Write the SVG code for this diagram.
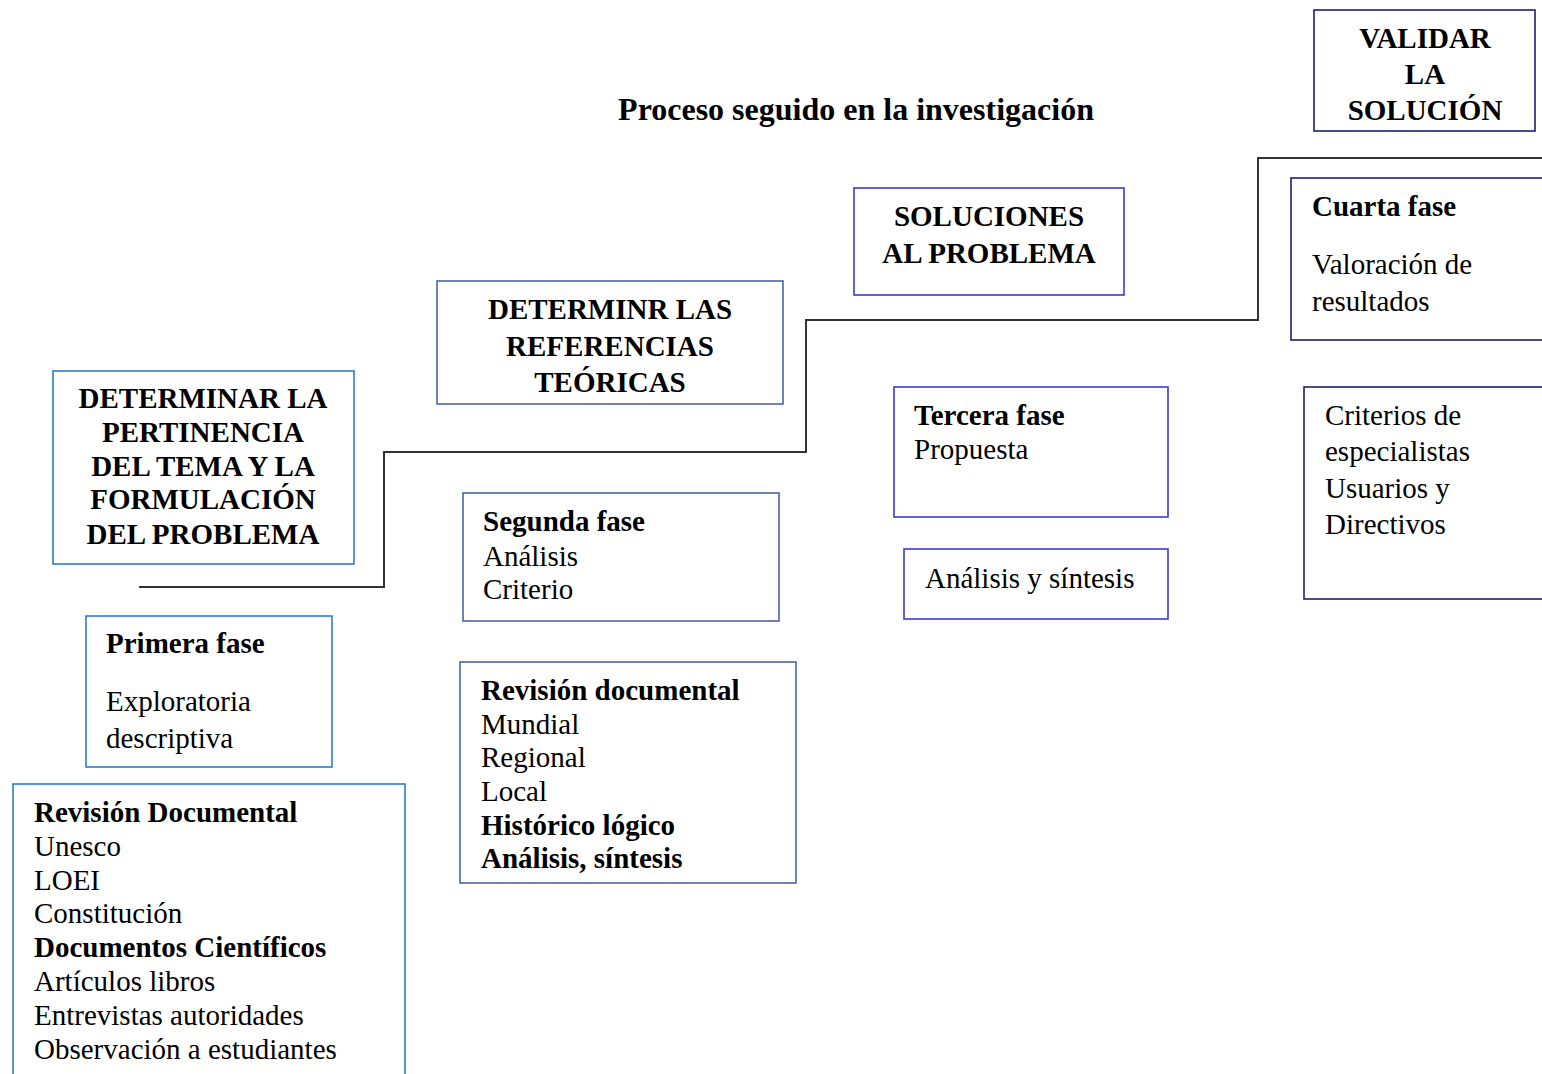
<svg xmlns="http://www.w3.org/2000/svg" width="1542" height="1074" viewBox="0 0 1542 1074">
<style>
text{font-family:"Liberation Serif","Times New Roman",serif;font-size:29px;fill:#000}
.b{font-weight:bold}
.c{text-anchor:middle}
.box{fill:#fff;stroke-width:1.6}
.s1{stroke:#2E7BCF}
.s2{stroke:#4A66A8}
.s3{stroke:#3A3AD4}
.s4{stroke:#1E1E70}
.conn{fill:none;stroke:#333;stroke-width:2}
</style>
<rect width="1542" height="1074" fill="#fff"/>
<text class="b c" x="856" y="120" style="font-size:32px">Proceso seguido en la investigación</text>
<g id="connectors">
<polyline class="conn" points="1542,158 1258,158 1258,320 806,320 806,452 384,452 384,587 139,587"/>
</g>
<g id="validar">
<rect class="box s4" x="1314" y="10" width="221" height="121"/>
<text class="b c" x="1425" y="48">VALIDAR</text>
<text class="b c" x="1425" y="84">LA</text>
<text class="b c" x="1425" y="120">SOLUCIÓN</text>
</g>
<g id="cuarta">
<rect class="box s4" x="1291" y="178" width="260" height="162"/>
<text class="b" x="1312" y="216">Cuarta fase</text>
<text x="1312" y="274">Valoración de</text>
<text x="1312" y="311">resultados</text>
</g>
<g id="criterios">
<rect class="box s4" x="1304" y="387" width="250" height="212"/>
<text x="1325" y="425">Criterios de</text>
<text x="1325" y="461">especialistas</text>
<text x="1325" y="498">Usuarios y</text>
<text x="1325" y="534">Directivos</text>
</g>
<g id="soluciones">
<rect class="box s3" x="854" y="188" width="270" height="107"/>
<text class="b c" x="989" y="226">SOLUCIONES</text>
<text class="b c" x="989" y="263">AL PROBLEMA</text>
</g>
<g id="tercera">
<rect class="box s3" x="894" y="387" width="274" height="130"/>
<text class="b" x="914" y="425">Tercera fase</text>
<text x="914" y="459">Propuesta</text>
</g>
<g id="analisis">
<rect class="box s3" x="904" y="549" width="264" height="70"/>
<text x="925" y="588">Análisis y síntesis</text>
</g>
<g id="referencias">
<rect class="box s2" x="437" y="281" width="346" height="123"/>
<text class="b c" x="610" y="319">DETERMINR LAS</text>
<text class="b c" x="610" y="356">REFERENCIAS</text>
<text class="b c" x="610" y="392">TEÓRICAS</text>
</g>
<g id="segunda">
<rect class="box s2" x="463" y="493" width="316" height="128"/>
<text class="b" x="483" y="531">Segunda fase</text>
<text x="483" y="566">Análisis</text>
<text x="483" y="599">Criterio</text>
</g>
<g id="revision-media">
<rect class="box s2" x="460" y="662" width="336" height="221"/>
<text class="b" x="481" y="700">Revisión documental</text>
<text x="481" y="734">Mundial</text>
<text x="481" y="767">Regional</text>
<text x="481" y="801">Local</text>
<text class="b" x="481" y="835">Histórico lógico</text>
<text class="b" x="481" y="868">Análisis, síntesis</text>
</g>
<g id="pertinencia">
<rect class="box s1" x="53" y="371" width="301" height="193"/>
<text class="b c" x="203" y="408">DETERMINAR LA</text>
<text class="b c" x="203" y="442">PERTINENCIA</text>
<text class="b c" x="203" y="476">DEL TEMA Y LA</text>
<text class="b c" x="203" y="509">FORMULACIÓN</text>
<text class="b c" x="203" y="544">DEL PROBLEMA</text>
</g>
<g id="primera">
<rect class="box s1" x="86" y="616" width="246" height="151"/>
<text class="b" x="106" y="653">Primera fase</text>
<text x="106" y="711">Exploratoria</text>
<text x="106" y="748">descriptiva</text>
</g>
<g id="revision-izq">
<rect class="box s1" x="13" y="784" width="392" height="300"/>
<text class="b" x="34" y="822">Revisión Documental</text>
<text x="34" y="856">Unesco</text>
<text x="34" y="890">LOEI</text>
<text x="34" y="923">Constitución</text>
<text class="b" x="34" y="957">Documentos Científicos</text>
<text x="34" y="991">Artículos libros</text>
<text x="34" y="1025">Entrevistas autoridades</text>
<text x="34" y="1059">Observación a estudiantes</text>
</g>
</svg>
